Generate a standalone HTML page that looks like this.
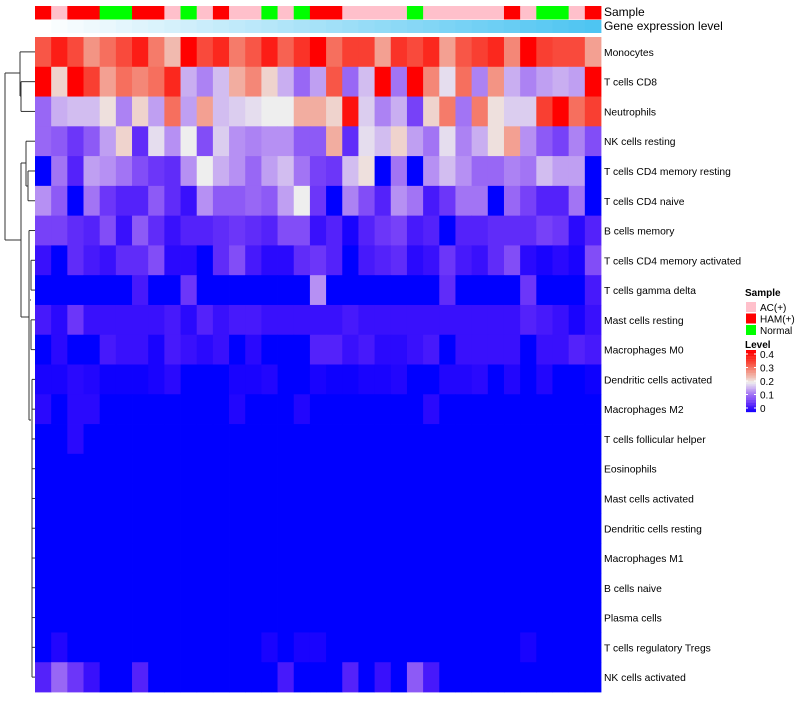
<!DOCTYPE html>
<html><head><meta charset="utf-8"><style>
body{margin:0;background:#fff;width:800px;height:700px;overflow:hidden;font-family:"Liberation Sans",sans-serif}
svg text{font-family:"Liberation Sans",sans-serif}
</style></head><body>
<svg id="chart" width="800" height="700" xmlns="http://www.w3.org/2000/svg"></svg>
<script>
const rowNames=["Monocytes","T cells CD8","Neutrophils","NK cells resting","T cells CD4 memory resting","T cells CD4 naive","B cells memory","T cells CD4 memory activated","T cells gamma delta","Mast cells resting","Macrophages M0","Dendritic cells activated","Macrophages M2","T cells follicular helper","Eosinophils","Mast cells activated","Dendritic cells resting","Macrophages M1","B cells naive","Plasma cells","T cells regulatory  Tregs","NK cells activated"];
const sampleGroups=["HAM","AC","HAM","HAM","N","N","HAM","HAM","AC","N","AC","HAM","AC","AC","N","AC","N","HAM","HAM","AC","AC","AC","AC","N","AC","AC","AC","AC","AC","HAM","AC","N","N","AC","HAM"];
const legendTicks=[0,0.1,0.2,0.3,0.4];
const rMono=[0.32,0.37,0.33,0.27,0.3,0.33,0.37,0.29,0.24,0.4,0.33,0.36,0.29,0.32,0.37,0.31,0.35,0.4,0.3,0.34,0.34,0.26,0.35,0.33,0.36,0.26,0.32,0.34,0.36,0.28,0.4,0.34,0.33,0.33,0.26];
const rCD8=[0.4,0.22,0.4,0.34,0.26,0.3,0.28,0.3,0.36,0.16,0.13,0.17,0.25,0.28,0.22,0.16,0.11,0.15,0.32,0.11,0.17,0.4,0.12,0.4,0.28,0.19,0.3,0.13,0.27,0.16,0.13,0.15,0.16,0.15,0.4];
const rNeut=[0.11,0.16,0.17,0.17,0.21,0.13,0.22,0.15,0.3,0.15,0.26,0.17,0.18,0.19,0.2,0.2,0.25,0.25,0.22,0.38,0.18,0.13,0.16,0.08,0.22,0.29,0.12,0.29,0.21,0.18,0.18,0.34,0.4,0.3,0.34];
const rNKr=[0.11,0.1,0.07,0.1,0.15,0.22,0.06,0.19,0.14,0.2,0.09,0.18,0.14,0.13,0.14,0.14,0.1,0.1,0.25,0.06,0.19,0.17,0.22,0.15,0.12,0.19,0.13,0.16,0.21,0.26,0.14,0.1,0.08,0.13,0.09];
const rCD4mr=[0,0.12,0.05,0.15,0.14,0.12,0.09,0.07,0.06,0.14,0.2,0.16,0.14,0.11,0.15,0.17,0.12,0.08,0.07,0.17,0.21,0,0.12,0,0.14,0.17,0.14,0.11,0.11,0.13,0.12,0.17,0.15,0.15,0];
const rCD4n=[0.14,0.1,0,0.12,0.07,0.05,0.05,0.1,0.06,0.03,0.14,0.1,0.1,0.11,0.1,0.15,0.2,0.07,0,0.13,0.09,0.05,0.14,0.12,0.04,0.07,0.12,0.12,0,0.11,0.08,0.05,0.05,0.12,0];
const rBm=[0.08,0.08,0.06,0.05,0.09,0.03,0.1,0.06,0.03,0.05,0.05,0.06,0.07,0.06,0.05,0.09,0.09,0.03,0.05,0.01,0.05,0.07,0.08,0.04,0.05,0,0.05,0.05,0.06,0.06,0.06,0.08,0.07,0.02,0.05];
const rCD4ma=[0.03,0,0.06,0.04,0.03,0.06,0.06,0.09,0.02,0.02,0,0.06,0.09,0.04,0.02,0.02,0.06,0.07,0.05,0,0.04,0.05,0.06,0.02,0.03,0.07,0.04,0.03,0.06,0.09,0.02,0.01,0.02,0.01,0.09];
const rGd=[0,0,0,0,0,0,0.04,0,0,0.07,0,0,0,0,0,0,0,0.14,0,0,0,0,0,0,0,0.06,0,0,0,0,0.07,0,0,0,0.04];
const rMastR=[0.04,0.02,0.07,0.03,0.03,0.03,0.03,0.03,0.04,0.02,0.05,0.03,0.04,0.04,0.03,0.03,0.03,0.03,0.03,0.04,0.03,0.03,0.03,0.03,0.03,0.03,0.03,0.03,0.03,0.03,0.05,0.04,0.03,0.01,0.03];
const rM0=[0,0.02,0,0,0.04,0.03,0.03,0.01,0.04,0.03,0.02,0.03,0,0.02,0,0,0,0.05,0.05,0.03,0.04,0.02,0.02,0.03,0.04,0,0.03,0.03,0.03,0.03,0,0.03,0.03,0.05,0.04];
const rDCa=[0.01,0.01,0.02,0.015,0.005,0.005,0.005,0.01,0.02,0,0,0,0.01,0.01,0.015,0,0,0.01,0.005,0.005,0.01,0.01,0.015,0,0,0.015,0.015,0.02,0,0.015,0,0.015,0,0,0.005];
const rM2=[0.02,0,0.02,0.02,0,0,0,0,0,0,0,0,0.015,0,0,0,0.015,0,0,0,0,0,0,0,0.02,0,0,0,0,0,0,0,0,0,0];
const rTfh=[0,0,0.02,0,0,0,0,0,0,0,0,0,0,0,0,0,0,0,0,0,0,0,0,0,0,0,0,0,0,0,0,0,0,0,0];
const rZero=[0,0,0,0,0,0,0,0,0,0,0,0,0,0,0,0,0,0,0,0,0,0,0,0,0,0,0,0,0,0,0,0,0,0,0];
const rTreg=[0,0.015,0,0,0,0,0,0,0,0,0,0,0,0,0.01,0,0.01,0.01,0,0,0,0,0,0,0,0,0,0,0,0,0.01,0,0,0,0];
const rNKa=[0.05,0.11,0.07,0.03,0,0,0.05,0,0,0,0,0,0,0,0,0.04,0,0,0,0.05,0,0.03,0,0.1,0.04,0,0,0,0,0,0,0,0,0,0];
const values=[rMono,rCD8,rNeut,rNKr,rCD4mr,rCD4n,rBm,rCD4ma,rGd,rMastR,rM0,rDCa,rM2,rTfh,rZero,rZero,rZero,rZero,rZero,rZero,rTreg,rNKa];

const NS="http://www.w3.org/2000/svg";
const svg=document.getElementById('chart');
const X0=35,X1=601,Y0=37,Y1=692;
const nC=sampleGroups.length,nR=rowNames.length;
const cw=(X1-X0)/nC,rh=(Y1-Y0)/nR;
const xPos=i=>X0+i*cw, yPos=j=>Y0+j*rh;
function col(v){const t=Math.max(0,Math.min(1,v/0.4));let r,g,b;
 if(t<0.5){const s=t/0.5;r=238*Math.pow(s,0.75);g=238*Math.pow(s,1.4);b=255-17*s;}
 else{const s=(t-0.5)/0.5;r=238+17*s;g=238*Math.pow(1-s,1.1);b=g*(1-0.3*s);}
 return `rgb(${r|0},${g|0},${b|0})`;}
function el(tag,a){const e=document.createElementNS(NS,tag);for(const k in a)e.setAttribute(k,a[k]);svg.appendChild(e);return e;}
const grpCol={AC:"#FFC0CB",HAM:"#FF0000",N:"#00FF00"};
for(let i=0;i<nC;i++){
 const r=el('rect',{x:xPos(i),y:6,width:cw+0.4,height:13.5,fill:grpCol[sampleGroups[i]]});
 
 
 const f=i/(nC-1);
 const g=el('rect',{x:xPos(i),y:20,width:cw+0.4,height:13,fill:`rgb(${255-177*f|0},${255-58*f|0},${255-13*f|0})`});
 
 
}
for(let j=0;j<nR;j++){for(let i=0;i<nC;i++){
 const c=el('rect',{x:xPos(i),y:yPos(j),width:cw+0.4,height:rh+0.4,fill:col(values[j][i])});
 
 
}
 const t=el('text',{x:604,y:yPos(j)+rh/2+4,'font-size':'10.3',fill:'#000'});t.textContent=rowNames[j];
 
 
}
let t1=el('text',{x:604,y:16,'font-size':'12'});t1.textContent="Sample";

let t2=el('text',{x:604,y:30,'font-size':'12'});t2.textContent="Gene expression level";

// dendrogram
const cy=j=>yPos(j)+rh/2;
const segs=[[5,73,5,240],[5,73,20,73],[5,240,21,240],[20,cy(0),20,96],[20,cy(0),35,cy(0)],[20,96,21,96],[21,cy(1),21,cy(2)],[21,cy(1),35,cy(1)],[21,cy(2),35,cy(2)],
[21,163,21,317],[21,163,26,163],[26,cy(3),26,186],[26,cy(3),35,cy(3)],[26,186,28,186],[28,cy(4),28,cy(5)],[28,cy(4),35,cy(4)],[28,cy(5),35,cy(5)],
[21,317,29,317],[29,cy(6),29,420],[29,cy(6),35,cy(6)],[29,420,31,420],[31,cy(7),31,cy(8)],[31,cy(7),35,cy(7)],[31,cy(8),35,cy(8)],[30,300,31,300],
[31,cy(9),31,cy(10)],[31,cy(9),35,cy(9)],[31,cy(10),35,cy(10)],[32,cy(11),32,cy(21)]];
for(const s of segs){const l=el('line',{x1:s[0],y1:s[1],x2:s[2],y2:s[3],stroke:'#333','stroke-width':1});
 }
for(let j=11;j<22;j++){const l=el('line',{x1:32,y1:cy(j),x2:35,y2:cy(j),stroke:'#333','stroke-width':1});
 }
// legend
let lt=el('text',{x:745,y:296,'font-size':'10','font-weight':'bold'});lt.textContent="Sample";

[["AC","AC(+)"],["HAM","HAM(+)"],["N","Normal"]].forEach((p,k)=>{
 const r=el('rect',{x:746,y:302+k*11.5,width:10,height:10,fill:grpCol[p[0]]});
 
 const t=el('text',{x:760,y:311+k*11.5,'font-size':'10'});t.textContent=p[1];
 
});
let lv=el('text',{x:745,y:348,'font-size':'10','font-weight':'bold'});lv.textContent="Level";

const ly=v=>408-v*135;
for(let k=0;k<40;k++){const v=0.41*(1-k/40);const r=el('rect',{x:746,y:350+k*1.55,width:10,height:1.7,fill:col(v)});
 }
legendTicks.forEach(v=>{const t=el('text',{x:760,y:ly(v)+4,'font-size':'10'});t.textContent=String(v);
 
 const l=el('line',{x1:746,x2:748,y1:ly(v),y2:ly(v),stroke:'#fff'});
 const l2=el('line',{x1:754,x2:756,y1:ly(v),y2:ly(v),stroke:'#fff'});});
</script>
</body></html>
